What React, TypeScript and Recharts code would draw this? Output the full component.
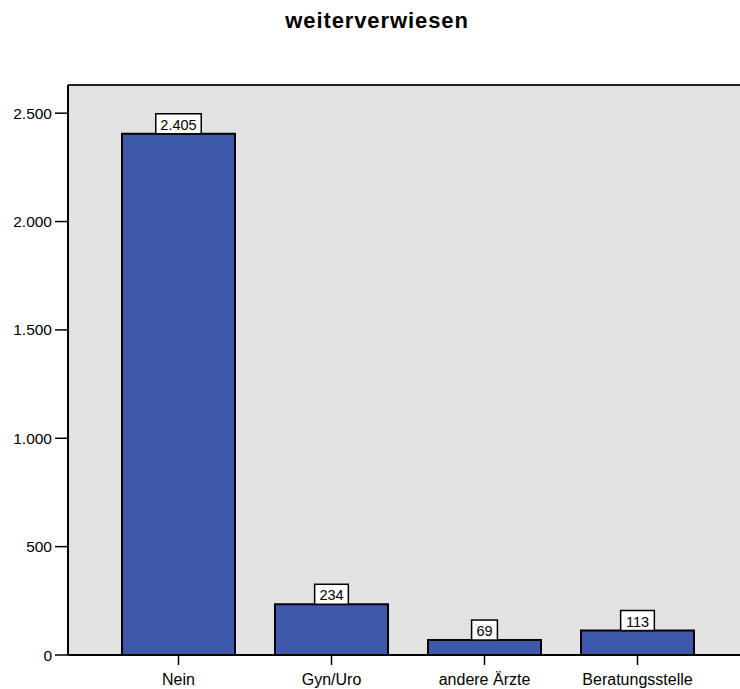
import {
  Bar,
  BarChart,
  CartesianGrid,
  LabelList,
  ReferenceLine,
  XAxis,
  YAxis,
} from "recharts";

const categories = ["Nein", "Gyn/Uro", "andere Ärzte", "Beratungsstelle"];
const counts = [2405, 234, 69, 113];
const yTicks = [0, 500, 1000, 1500, 2000, 2500];
const yMax = 2630;

const rows = categories.map((name, i) => ({ name, count: counts[i] }));

const FONT = '"Liberation Sans", Arial, sans-serif';

// German thousands separator: 2405 -> "2.405"
const fmt = (v: number) => String(v).replace(/\B(?=(\d{3})+(?!\d))/g, ".");

function ValueBox(props: any) {
  const { x, y, width, value } = props;
  const text = fmt(Number(value));
  const digits = text.replace(/\./g, "").length;
  const dots = text.length - digits;
  const w = digits * 7.9 + dots * 3.9 + 10;
  const cx = x + width / 2;
  return (
    <g>
      <rect x={cx - w / 2} y={y - 20} width={w} height={20} fill="#fff" stroke="#000" strokeWidth={1.5} />
      <text x={cx} y={y - 4} textAnchor="middle" fontSize={14.5} fontFamily={FONT} fill="#000">
        {text}
      </text>
    </g>
  );
}

export default function App() {
  return (
    <div
      style={{
        position: "absolute",
        left: 0,
        top: 0,
        width: 740,
        height: 689,
        overflow: "hidden",
        background: "#fff",
      }}
    >
      <div
        style={{
          position: "absolute",
          left: 0,
          top: 8,
          width: 754,
          textAlign: "center",
          fontFamily: FONT,
          fontWeight: "bold",
          fontSize: 22,
          letterSpacing: 0.9,
          color: "#000",
        }}
      >
        weiterverwiesen
      </div>
      {/* plot runs past the right edge, so there is no right-hand frame */}
      <BarChart
        width={752}
        height={689}
        data={rows}
        margin={{ top: 85, right: 0, bottom: 0, left: 0 }}
        barSize={113}
      >
        <CartesianGrid fill="#e2e2e2" horizontal={false} vertical={false} />
        <XAxis
          dataKey="name"
          height={34}
          padding={{ left: 34, right: 38 }}
          tickSize={10}
          tickMargin={9}
          axisLine={{ stroke: "#000", strokeWidth: 2 }}
          tickLine={{ stroke: "#000", strokeWidth: 1.5 }}
          tick={{ fill: "#000", fontSize: 16, fontFamily: FONT }}
          interval={0}
        />
        <YAxis
          width={68}
          domain={[0, yMax]}
          ticks={yTicks}
          tickFormatter={fmt}
          tickSize={13}
          tickMargin={3}
          axisLine={{ stroke: "#000", strokeWidth: 2 }}
          tickLine={{ stroke: "#000", strokeWidth: 1.5 }}
          tick={{ fill: "#000", fontSize: 15.5, fontFamily: FONT }}
        />
        <ReferenceLine y={yMax} stroke="#222" strokeWidth={2} />
        <Bar dataKey="count" fill="#3e58aa" stroke="#000" strokeWidth={2} isAnimationActive={false}>
          <LabelList dataKey="count" content={ValueBox} />
        </Bar>
      </BarChart>
    </div>
  );
}
